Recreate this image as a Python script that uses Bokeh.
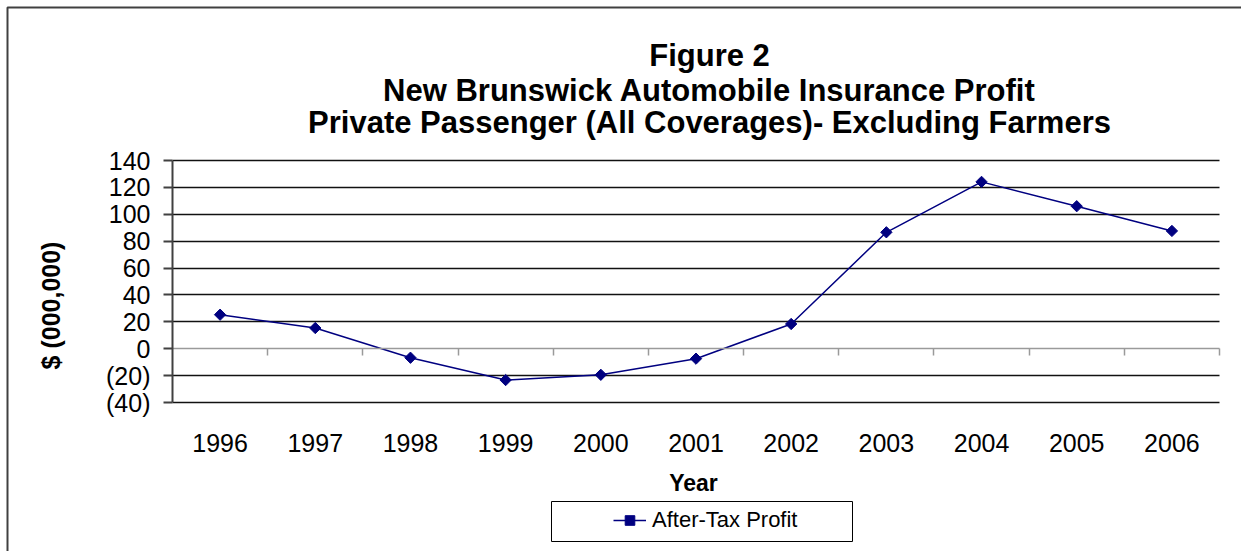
import math
from bokeh.plotting import figure
from bokeh.models import (Range1d, FixedTicker, Label, Legend, LegendItem,
                          BoxAnnotation, LinearAxis, Grid)
from bokeh.embed import file_html
from bokeh.resources import INLINE

# ---- data ----
years = ["1996", "1997", "1998", "1999", "2000", "2001", "2002", "2003", "2004", "2005", "2006"]
after_tax_profit = [25.3, 15.4, -6.7, -23.3, -19.4, -7.4, 18.4, 86.6, 124.1, 106.0, 87.6]
y_ticks = [-40, -20, 0, 20, 40, 60, 80, 100, 120, 140]
y_tick_labels = ["(40)", "(20)", "0", "20", "40", "60", "80", "100", "120", "140"]
title_lines = ["Figure 2",
               "New Brunswick Automobile Insurance Profit",
               "Private Passenger (All Coverages)- Excluding Farmers"]
series_name = "After-Tax Profit"
x_title = "Year"
y_title = "$ (000,000)"

FONT = "Liberation Sans"
NAVY = "#000080"

# ---- layout (canvas pixels) ----
W, H = 1241, 551
FL, FT, FR, FB = 172, 160, 1219, 402        # plot area edges
n = len(years)
x_lo, x_hi = -0.5, n - 0.5
y_lo, y_hi = y_ticks[0], y_ticks[-1]
ppx = (FR - FL) / (x_hi - x_lo)
ppy = (FB - FT) / (y_hi - y_lo)
x_start = x_lo - FL / ppx
y_end = y_hi + FT / ppy


def dx(px):
    return x_start + px / ppx


def dy(py):
    return y_end - py / ppy


xs = list(range(n))

p = figure(width=W, height=H, output_backend="svg", toolbar_location=None,
           x_range=Range1d(dx(0), dx(W)), y_range=Range1d(dy(H), dy(0)),
           min_border=0)
p.title.visible = False
p.outline_line_color = None
p.background_fill_color = "white"
p.border_fill_color = "white"

# x axis: category labels below the plot area
xa = p.xaxis[0]
xa.fixed_location = y_lo
xa.bounds = (x_lo, x_hi)
xa.ticker = FixedTicker(ticks=xs)
xa.major_label_overrides = {i: y for i, y in enumerate(years)}
xa.axis_line_color = None
xa.major_tick_line_color = None
xa.minor_tick_line_color = None
xa.major_tick_out = 0
xa.major_tick_in = 0
xa.major_label_standoff = 31
xa.major_label_text_font = FONT
xa.major_label_text_font_size = "25px"
xa.major_label_text_color = "black"

# y axis
ya = p.yaxis[0]
ya.fixed_location = x_lo
ya.bounds = (y_lo, y_hi)
ya.ticker = FixedTicker(ticks=y_ticks)
ya.major_label_overrides = {t: l for t, l in zip(y_ticks, y_tick_labels)}
ya.axis_line_color = "#404040"
ya.axis_line_width = 2
ya.major_tick_line_color = "#404040"
ya.major_tick_line_width = 2
ya.major_tick_out = 9
ya.major_tick_in = 0
ya.minor_tick_line_color = None
ya.major_label_standoff = 13
ya.major_label_text_font = FONT
ya.major_label_text_font_size = "25px"
ya.major_label_text_color = "black"

# category axis crossing at zero, ticks at category boundaries
bounds = [i + 0.5 for i in xs]
za = LinearAxis(fixed_location=0, bounds=(x_lo, x_hi),
                ticker=FixedTicker(ticks=bounds),
                axis_line_color="#9a9a9a", axis_line_width=1.5,
                major_tick_line_color="#9a9a9a", major_tick_line_width=1.5,
                major_tick_out=7, major_tick_in=0, minor_tick_line_color=None,
                major_label_text_color=None, major_label_text_font_size="1px")
p.add_layout(za, "below")

# horizontal gridlines (not at zero)
grid_ticks = [t for t in y_ticks if t != 0]
p.xgrid.grid_line_color = None
if "cross_bounds" in Grid.properties():
    p.ygrid.ticker = FixedTicker(ticks=grid_ticks)
    p.ygrid.cross_bounds = (x_lo, x_hi)
    p.ygrid.grid_line_color = "#111111"
    p.ygrid.grid_line_width = 1.5
else:
    p.ygrid.grid_line_color = None
    p.segment(x0=[x_lo] * len(grid_ticks), y0=grid_ticks,
              x1=[x_hi] * len(grid_ticks), y1=grid_ticks,
              line_color="#111111", line_width=1.5, level="underlay")

# series
r_line = p.line(xs, after_tax_profit, line_color=NAVY, line_width=1.5)
r_pts = p.scatter(xs, after_tax_profit, marker="square", angle=math.pi / 4, size=8,
                  fill_color=NAVY, line_color=NAVY)

# title
for txt, base in zip(title_lines, [55, 89.5, 122]):
    p.add_layout(Label(x=dx(709), y=dy(base), text=txt, text_font=FONT,
                       text_font_size="31px", text_font_style="bold",
                       text_align="center", text_baseline="alphabetic",
                       text_color="black"))

# axis titles
p.add_layout(Label(x=dx(693), y=dy(482), text=x_title, text_font=FONT,
                   text_font_size="23px", text_font_style="bold",
                   text_align="center", text_baseline="alphabetic",
                   text_color="black"))
p.add_layout(Label(x=dx(50), y=dy(305), text=y_title, text_font=FONT,
                   text_font_size="25px", text_font_style="bold",
                   text_align="center", text_baseline="middle",
                   angle=math.pi / 2, text_color="black"))

# legend box + legend
p.add_layout(BoxAnnotation(left=dx(551), right=dx(852), top=dy(501), bottom=dy(541),
                           fill_color=None, fill_alpha=0, line_color="black",
                           line_width=1, line_alpha=1))
legend = Legend(items=[LegendItem(label=series_name, renderers=[r_line, r_pts])],
                location=(613, H - 533), orientation="vertical",
                border_line_color=None, background_fill_alpha=0,
                padding=0, margin=0, glyph_width=33, glyph_height=24,
                label_height=24, label_standoff=6,
                label_text_font=FONT, label_text_font_size="22px",
                label_text_color="black")
p.add_layout(legend, "center")

# outer chart border (top and left edges visible in the window)
p.add_layout(BoxAnnotation(left=dx(7), right=dx(1400), top=dy(7), bottom=dy(700),
                           fill_color=None, fill_alpha=0, line_color="#404040",
                           line_width=2, line_alpha=1))

open("out.html", "w").write(file_html(p, INLINE))
